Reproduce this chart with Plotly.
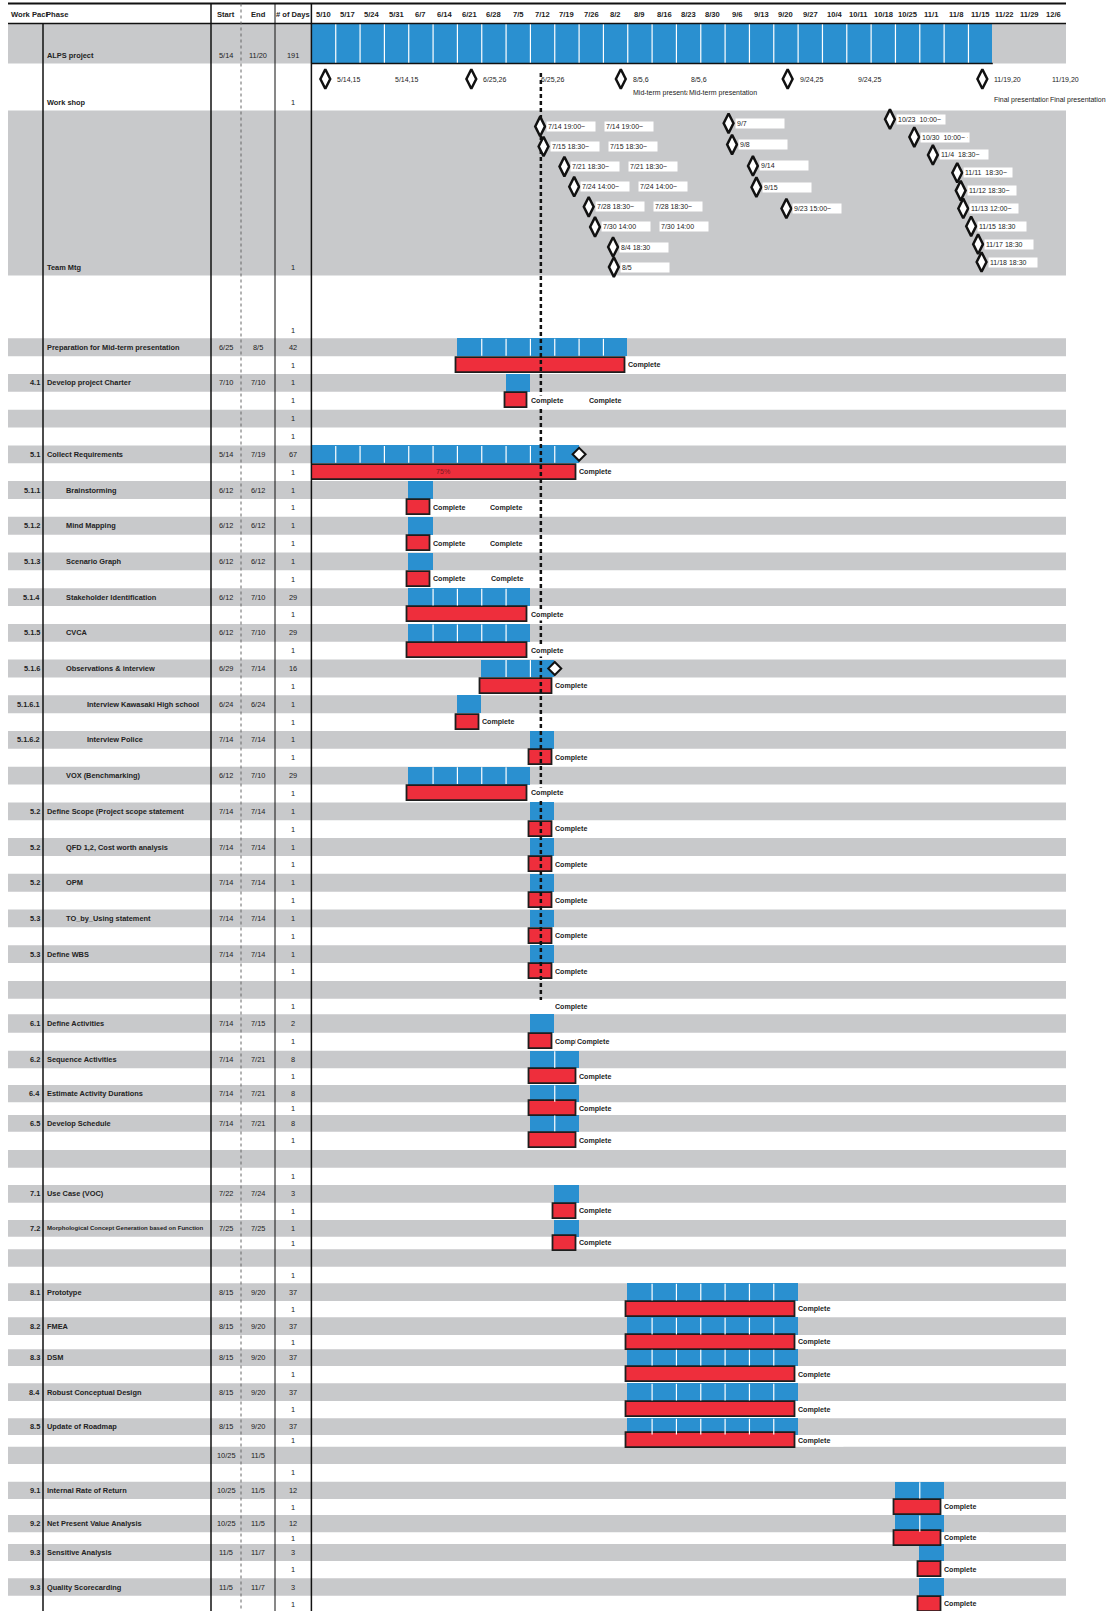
import plotly.graph_objects as go
from datetime import datetime, timedelta

YEAR = 2010

# ---------------- data ----------------
WEEK_LABELS = ["5/10", "5/17", "5/24", "5/31", "6/7", "6/14", "6/21", "6/28", "7/5", "7/12",
               "7/19", "7/26", "8/2", "8/9", "8/16", "8/23", "8/30", "9/6", "9/13", "9/20",
               "9/27", "10/4", "10/11", "10/18", "10/25", "11/1", "11/8", "11/15", "11/22",
               "11/29", "12/6"]
HEADER_LABELS = ["Work Pacl", "Phase", "Start", "End", "# of Days"]

SUMMARY_NAMES = ["ALPS project", "Work shop", "Team Mtg", ""]
SUMMARY_START = ["5/14", "", "", ""]
SUMMARY_END = ["11/20", "", "", ""]
SUMMARY_DAYS = ["191", "1", "1", "1"]

WORKSHOP_DATES = ["5/14", "6/25", "8/7", "9/24", "11/19"]
WORKSHOP_LABELS = ["5/14,15", "6/25,26", "8/5,6", "9/24,25", "11/19,20"]
WORKSHOP_NOTES = ["", "", "Mid-term presentation", "", "Final presentation"]

MTG_DATES = ["7/14 19:00", "7/15 18:30", "7/21 18:30", "7/24 14:00", "7/28 18:30", "7/30 14:00",
             "8/4 18:30", "8/5",
             "9/7", "9/8", "9/14", "9/15", "9/23 15:00",
             "10/23 10:00", "10/30 10:00", "11/4 18:30", "11/11 18:30", "11/12 18:30",
             "11/13 12:00", "11/15 18:30", "11/17 18:30", "11/18 18:30"]
MTG_LABELS = ["7/14 19:00~", "7/15 18:30~", "7/21 18:30~", "7/24 14:00~", "7/28 18:30~", "7/30 14:00",
              "8/4 18:30", "8/5",
              "9/7", "9/8", "9/14", "9/15", "9/23 15:00~",
              "10/23  10:00~", "10/30  10:00~ ·", "11/4  18:30~", "11/11  18:30~", "11/12 18:30~",
              "11/13 12:00~", "11/15 18:30", "11/17 18:30", "11/18 18:30"]
MTG_GROUP = [0, 0, 0, 0, 0, 0, 0, 0, 1, 1, 1, 1, 1, 2, 2, 2, 2, 2, 2, 2, 2, 2]
MTG_LANE = [0, 1, 2, 3, 4, 5, 6, 7, 0, 1, 2, 3, 4, 0, 1, 2, 3, 4, 5, 6, 7, 8]
MTG_DUPLICATED = [True] * 6 + [False] * 16

TASK_WP = ["", "4.1", "", "5.1", "5.1.1", "5.1.2", "5.1.3", "5.1.4", "5.1.5", "5.1.6", "5.1.6.1",
           "5.1.6.2", "", "5.2", "5.2", "5.2", "5.3", "5.3", "", "6.1", "6.2", "6.4", "6.5", "",
           "7.1", "7.2", "", "8.1", "8.2", "8.3", "8.4", "8.5", "", "9.1", "9.2", "9.3", "9.3"]
TASK_PHASE = ["Preparation for Mid-term presentation", "Develop project Charter", "",
              "Collect Requirements", "Brainstorming", "Mind Mapping", "Scenario Graph",
              "Stakeholder Identification", "CVCA", "Observations & interview",
              "Interview Kawasaki High school", "Interview Police", "VOX (Benchmarking)",
              "Define Scope (Project scope statement", "QFD 1,2, Cost worth analysis", "OPM",
              "TO_by_Using statement", "Define WBS", "", "Define Activities", "Sequence Activities",
              "Estimate Activity Durations", "Develop Schedule", "", "Use Case (VOC)",
              "Morphological Concept Generation based on Function", "", "Prototype", "FMEA", "DSM",
              "Robust Conceptual Design", "Update of Roadmap", "", "Internal Rate of Return",
              "Net Present Value Analysis", "Sensitive Analysis", "Quality Scorecarding"]
TASK_LEVEL = [0, 0, 0, 0, 1, 1, 1, 1, 1, 1, 2, 2, 1, 0, 1, 1, 1, 0, 0, 0, 0, 0, 0, 0, 0, 0, 0,
              0, 0, 0, 0, 0, 0, 0, 0, 0, 0]
TASK_START = ["6/25", "7/10", "", "5/14", "6/12", "6/12", "6/12", "6/12", "6/12", "6/29", "6/24",
              "7/14", "6/12", "7/14", "7/14", "7/14", "7/14", "7/14", "", "7/14", "7/14", "7/14",
              "7/14", "", "7/22", "7/25", "", "8/15", "8/15", "8/15", "8/15", "8/15", "10/25",
              "10/25", "10/25", "11/5", "11/5"]
TASK_END = ["8/5", "7/10", "", "7/19", "6/12", "6/12", "6/12", "7/10", "7/10", "7/14", "6/24",
            "7/14", "7/10", "7/14", "7/14", "7/14", "7/14", "7/14", "", "7/15", "7/21", "7/21",
            "7/21", "", "7/24", "7/25", "", "9/20", "9/20", "9/20", "9/20", "9/20", "11/5",
            "11/5", "11/5", "11/7", "11/7"]
TASK_DAYS = ["42", "1", "1", "67", "1", "1", "1", "29", "29", "16", "1", "1", "29", "1", "1", "1",
             "1", "1", "", "2", "8", "8", "8", "", "3", "1", "", "37", "37", "37", "37", "37", "",
             "12", "12", "3", "3"]
TASK_STATUS = ["Complete", "Complete", "", "Complete"] + ["Complete"] * 15 + \
              ["Complete"] * 4 + [""] + ["Complete"] * 2 + [""] + ["Complete"] * 5 + [""] + \
              ["Complete"] * 4
TASK_PCT = ["", "", "", "75%"] + [""] * 33
DEADLINE_TASKS = ["Collect Requirements", "Observations & interview"]
LABEL_ONLY = {18: "7/14"}
SUB_DAYS = "1"
TODAY = "7/15"

# ---------------- layout / style ----------------
W, H = 1109, 1611
FONT = "Liberation Sans, Arial, sans-serif"
TXT = "#222222"
GRAY = "#C8C9CB"
BLUE = "#2A90D0"
RED = "#EE2E3C"
FS_NAME, FS_NUM, FS_HEAD, FS_LAB, FS_DONE = 7.4, 7.4, 7.6, 7.0, 7.1
NAME_FIT_CHARS = 41
X_GANTT = (311.4, 1065.8)
BAND_X = (8, 1066)
COL_WP_RIGHT, COL_PHASE_LEFT, INDENT = 41.5, 45, [0, 19, 40]
COL_START_C, COL_END_C, COL_DAYS_C = 226, 258, 293
VLINES = [(43, 23.5, "solid", 1.5, "#111"), (211, 3.5, "solid", 1.5, "#111"),
          (241, 3.5, "dot", 1, "#666"), (275, 3.5, "solid", 1, "#111"),
          (311.4, 3.5, "solid", 1.5, "#111")]
HEADER_TOP, HEADER_BOT, HEADER_Y = 3.5, 23.5, 14.5
SUMMARY_BANDS = [(23.5, 63.5), (63.5, 110.5), (110.5, 275.5), (275.5, 338.3)]
SUMMARY_GRAY = [True, False, True, False]
LOWER_ROW_H = [17.85] * 37 + [15.55, 18.4, 18.0, 17.6, 16.7, 17.3, 12.7, 16.7, 18.3, 17.7, 17.3,
                              17.7, 17.3, 16.7, 12.6, 17.4, 16.6, 17.7, 16.3, 17.7, 14.3, 16.7,
                              17.3, 17.7, 17.3, 16.7, 11.7, 17.3, 17.7, 17.3, 16.0, 17.3, 11.7,
                              17.0, 17.3, 17.4, 17.3]
WORKSHOP_Y, NOTE_DY = 79, [0, 0, 13.5, 0, 20.5]
MTG_GROUP_Y0 = [126.4, 123.3, 119.2]
MTG_GROUP_STEP = [20.1, 21.3, 17.85]
DUP_SHIFT = 58
COMPLETE_DUP = {1: 58, 4: 57, 5: 57, 6: 58, 19: 22}
TODAY_Y = (73, 1000)
RED_H = 15
DIAMOND = 14


def dt(s):
    parts = s.split()
    m, d = parts[0].split("/")
    t = datetime(YEAR, int(m), int(d))
    if len(parts) > 1:
        hh, mm = parts[1].split(":")
        t += timedelta(hours=int(hh), minutes=int(mm))
    return t


def iso(t):
    return t.strftime("%Y-%m-%d %H:%M:%S")


AXIS_START = dt(WEEK_LABELS[0])
AXIS_END = AXIS_START + timedelta(days=7 * len(WEEK_LABELS))


def week_floor(t):
    return AXIS_START + timedelta(days=7 * ((t - AXIS_START).days // 7))


def week_span(s, e):
    ws = week_floor(dt(s))
    we = week_floor(dt(e)) + timedelta(days=7)
    return ws, we


# row geometry
row_tops = [SUMMARY_BANDS[-1][1]]
for h in LOWER_ROW_H:
    row_tops.append(row_tops[-1] + h)


def row(i):
    return row_tops[i], row_tops[i + 1]


shapes, ann = [], []


def px(x):
    return x / W


def add_text(x, y, s, anchor="left", size=FS_NAME, bold=True, xref="paper", color=TXT, **kw):
    ann.append(dict(x=x, y=y, xref=xref, yref="y", text=s, showarrow=False, xanchor=anchor,
                    yanchor="middle", font=dict(family=FONT, size=size, color=color,
                                                weight=700 if bold else 400), **kw))


def band(y0, y1):
    shapes.append(dict(type="rect", xref="paper", yref="y", x0=px(BAND_X[0]), x1=px(BAND_X[1]),
                       y0=y0, y1=y1, fillcolor=GRAY, line=dict(width=0), layer="below"))


# bands
for (y0, y1), g in zip(SUMMARY_BANDS, SUMMARY_GRAY):
    if g:
        band(y0, y1)
for i in range(len(TASK_WP)):
    band(*row(2 * i))

# header lines and column lines
for yy, wdt in [(HEADER_TOP, 2), (HEADER_BOT, 1.5)]:
    shapes.append(dict(type="line", xref="paper", yref="y", x0=px(BAND_X[0]), x1=px(BAND_X[1]),
                       y0=yy, y1=yy, line=dict(color="#111", width=wdt)))
for x, y0, dash, wdt, col in VLINES:
    shapes.append(dict(type="line", xref="paper", yref="y", x0=px(x), x1=px(x), y0=y0, y1=H,
                       line=dict(color=col, width=wdt, dash=dash)))

# header text
hx = [(9, "left"), (COL_PHASE_LEFT - 1, "left"), (COL_START_C, "center"), (COL_END_C, "center"),
      (COL_DAYS_C, "center")]
for (x, a), s in zip(hx, HEADER_LABELS):
    add_text(px(x), HEADER_Y, s, anchor=a, size=FS_HEAD)
for k, s in enumerate(WEEK_LABELS):
    add_text(iso(AXIS_START + timedelta(days=7 * k + 3.5)), HEADER_Y, s, anchor="center",
             size=FS_HEAD, xref="x")

# summary rows text
for (y0, y1), name, st, en, dy in zip(SUMMARY_BANDS, SUMMARY_NAMES, SUMMARY_START, SUMMARY_END,
                                      SUMMARY_DAYS):
    yy = y1 - 8
    if name:
        add_text(px(COL_PHASE_LEFT), yy, name)
    if st:
        add_text(px(COL_START_C), yy, st, anchor="center", bold=False, size=FS_NUM)
    if en:
        add_text(px(COL_END_C), yy, en, anchor="center", bold=False, size=FS_NUM)
    if dy:
        add_text(px(COL_DAYS_C), yy, dy, anchor="center", bold=False, size=FS_NUM)

# task table text
for i in range(len(TASK_WP)):
    g0, g1 = row(2 * i)
    w0, w1 = row(2 * i + 1)
    gy, wy = (g0 + g1) / 2, (w0 + w1) / 2
    if TASK_WP[i]:
        add_text(px(COL_WP_RIGHT), gy, TASK_WP[i], anchor="right")
    if TASK_PHASE[i]:
        fit = min(1.0, NAME_FIT_CHARS / len(TASK_PHASE[i]))
        add_text(px(COL_PHASE_LEFT + INDENT[TASK_LEVEL[i]]), gy, TASK_PHASE[i],
                 size=FS_NAME * fit)
    if TASK_START[i]:
        add_text(px(COL_START_C), gy, TASK_START[i], anchor="center", bold=False, size=FS_NUM)
    if TASK_END[i]:
        add_text(px(COL_END_C), gy, TASK_END[i], anchor="center", bold=False, size=FS_NUM)
    if TASK_DAYS[i]:
        add_text(px(COL_DAYS_C), gy, TASK_DAYS[i], anchor="center", bold=False, size=FS_NUM)
    add_text(px(COL_DAYS_C), wy, SUB_DAYS, anchor="center", bold=False, size=FS_NUM)

# ---------------- bars ----------------
blue_y, blue_base, blue_len, blue_w = [], [], [], []
red_y, red_base, red_len = [], [], []
div_x, div_y = [], []
deadline_x, deadline_y = [], []
complete_labels = []


def add_blue(ws, we, y0, y1):
    blue_y.append((y0 + y1) / 2)
    blue_base.append(iso(ws))
    blue_len.append((we - ws).total_seconds() * 1000)
    blue_w.append(y1 - y0)
    n = (we - ws).days // 7
    for k in range(1, n):
        xb = iso(ws + timedelta(days=7 * k))
        div_x.extend([xb, xb, None])
        div_y.extend([y0 + 0.5, y1 - 0.5, None])


ws, we = week_span(SUMMARY_START[0], SUMMARY_END[0])
add_blue(ws, we, *SUMMARY_BANDS[0])
shapes.append(dict(type="line", xref="x", yref="y", x0=iso(ws), x1=iso(we),
                   y0=SUMMARY_BANDS[0][1], y1=SUMMARY_BANDS[0][1],
                   line=dict(color="#111", width=1.5)))

for i in range(len(TASK_WP)):
    g0, g1 = row(2 * i)
    w0, w1 = row(2 * i + 1)
    wy = (w0 + w1) / 2
    if TASK_PHASE[i] and TASK_START[i]:
        ws, we = week_span(TASK_START[i], TASK_END[i])
        add_blue(ws, we, g0, g1)
        rs = ws - timedelta(days=0.3)
        re_ = we - timedelta(days=0.8)
        red_y.append(wy)
        red_base.append(iso(rs))
        red_len.append((re_ - rs).total_seconds() * 1000)
        if TASK_PHASE[i] in DEADLINE_TASKS:
            deadline_x.append(iso(we))
            deadline_y.append((g0 + g1) / 2)
        if TASK_PCT[i]:
            mid = rs + (re_ - rs) / 2
            add_text(iso(mid), wy, TASK_PCT[i], anchor="center", bold=False, xref="x",
                     color="#7A1A22", size=FS_DONE)
        if TASK_STATUS[i]:
            complete_labels.append((re_, wy, i))
    elif i in LABEL_ONLY and TASK_STATUS[i]:
        ws, we = week_span(LABEL_ONLY[i], LABEL_ONLY[i])
        complete_labels.append((we - timedelta(days=0.8), wy, i))

fig = go.Figure()
fig.add_trace(go.Bar(y=blue_y, x=blue_len, base=blue_base, width=blue_w, orientation="h",
                     marker=dict(color=BLUE, line=dict(width=0)), hoverinfo="skip"))
fig.add_trace(go.Scatter(x=div_x, y=div_y, mode="lines", line=dict(color="white", width=1.2),
                         hoverinfo="skip"))
fig.add_trace(go.Bar(y=red_y, x=red_len, base=red_base, width=RED_H, orientation="h",
                     marker=dict(color=RED, line=dict(color="#1E1E1E", width=1.8)),
                     hoverinfo="skip"))

# today line
fig.add_trace(go.Scatter(x=[iso(dt(TODAY)), iso(dt(TODAY))], y=list(TODAY_Y), mode="lines",
                         line=dict(color="#111", width=2.5, dash="4px,3px"), hoverinfo="skip"))

# deadline diamonds
fig.add_trace(go.Scatter(x=deadline_x, y=deadline_y, mode="markers",
                         marker=dict(symbol="diamond", size=10, color="white",
                                     line=dict(color="#111", width=2)), hoverinfo="skip"))

# workshop milestones
fig.add_trace(go.Scatter(x=[iso(dt(s)) for s in WORKSHOP_DATES], y=[WORKSHOP_Y] * len(WORKSHOP_DATES),
                         mode="markers",
                         marker=dict(symbol="diamond-tall", size=DIAMOND, color="white",
                                     line=dict(color="#111", width=2.5)), hoverinfo="skip"))
for s, lab, note, ndy in zip(WORKSHOP_DATES, WORKSHOP_LABELS, WORKSHOP_NOTES, NOTE_DY):
    x = iso(dt(s))
    add_text(x, WORKSHOP_Y, lab, bold=False, xref="x", xshift=10, size=FS_LAB)
    add_text(x, WORKSHOP_Y, lab, bold=False, xref="x", xshift=10 + DUP_SHIFT, size=FS_LAB)
    if note:
        add_text(x, WORKSHOP_Y + ndy, note, bold=False, xref="x", xshift=10, size=FS_LAB)
        add_text(x, WORKSHOP_Y + ndy, note, bold=False, xref="x", xshift=8 + DUP_SHIFT,
                 bgcolor="white", borderpad=1, size=FS_LAB)

# team meeting milestones
mx, my = [], []
for s, lab, g, lane, dup in zip(MTG_DATES, MTG_LABELS, MTG_GROUP, MTG_LANE, MTG_DUPLICATED):
    x = iso(dt(s))
    y = MTG_GROUP_Y0[g] + lane * MTG_GROUP_STEP[g]
    mx.append(x)
    my.append(y)
    add_text(x, y, lab, bold=False, xref="x", xshift=6, bgcolor="white", borderpad=1,
             width=46, align="left", size=FS_LAB)
    if dup:
        add_text(x, y, lab, bold=False, xref="x", xshift=6 + DUP_SHIFT, bgcolor="white",
                 borderpad=1, width=46, align="left", size=FS_LAB)
fig.add_trace(go.Scatter(x=mx, y=my, mode="markers",
                         marker=dict(symbol="diamond-tall", size=DIAMOND, color="white",
                                     line=dict(color="#111", width=2.5)), hoverinfo="skip"))

# complete labels
for re_, wy, i in complete_labels:
    add_text(iso(re_), wy, TASK_STATUS[i], xref="x", xshift=1, bgcolor="white", borderpad=1,
             width=44, align="left", size=FS_DONE)
    if i in COMPLETE_DUP:
        add_text(iso(re_), wy, TASK_STATUS[i], xref="x", xshift=1 + COMPLETE_DUP[i],
                 bgcolor="white", borderpad=1, width=44, align="left", size=FS_DONE)

fig.update_layout(
    width=W, height=H, margin=dict(l=0, r=0, t=0, b=0),
    paper_bgcolor="white", plot_bgcolor="white",
    showlegend=False, barmode="overlay", bargap=0,
    xaxis=dict(type="date", range=[iso(AXIS_START), iso(AXIS_END)],
               domain=[X_GANTT[0] / W, X_GANTT[1] / W], visible=False, showgrid=False,
               zeroline=False),
    yaxis=dict(range=[H, 0], domain=[0, 1], visible=False, showgrid=False, zeroline=False),
    shapes=shapes, annotations=ann, hovermode=False,
)
fig.write_html("out.html")
